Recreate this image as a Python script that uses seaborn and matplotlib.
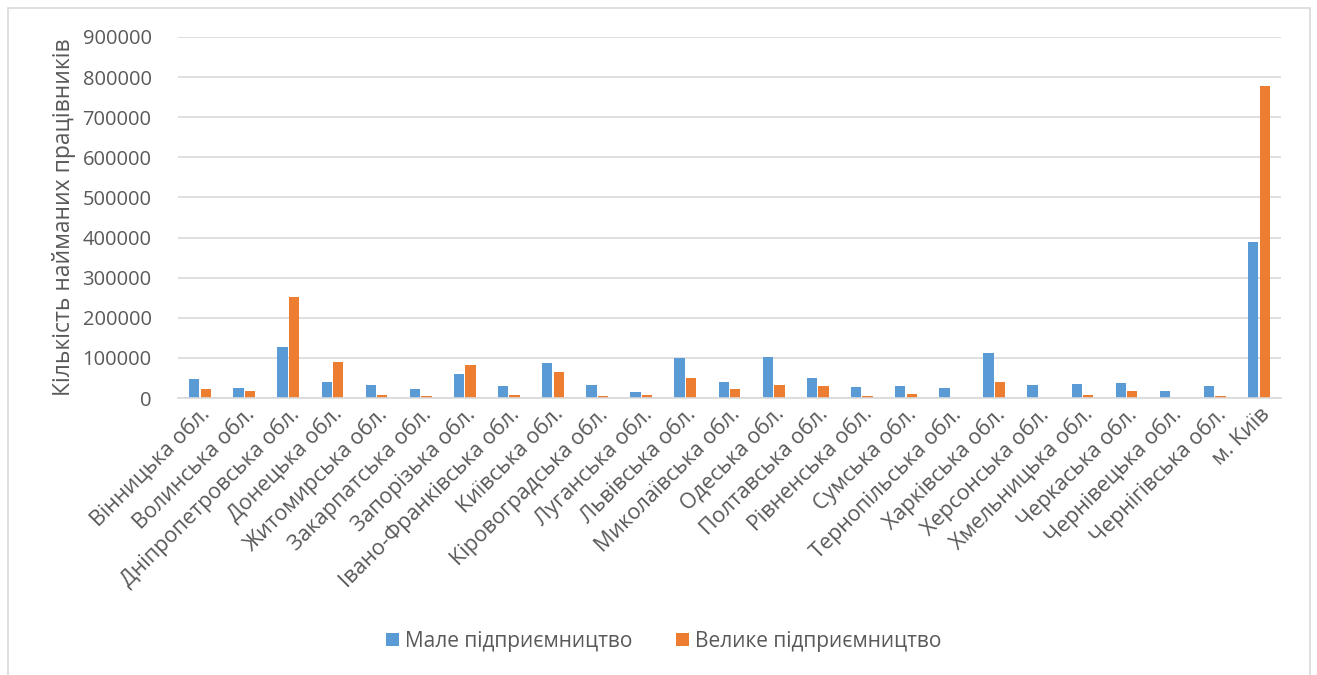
import matplotlib
matplotlib.use("Agg")
import matplotlib.pyplot as plt
import seaborn as sns
import pandas as pd
from matplotlib.patches import Rectangle

regions = ["Вінницька обл.", "Волинська обл.", "Дніпропетровська обл.", "Донецька обл.",
           "Житомирська обл.", "Закарпатська обл.", "Запорізька обл.", "Івано-Франківська обл.",
           "Київська обл.", "Кіровоградська обл.", "Луганська обл.", "Львівська обл.",
           "Миколаївська обл.", "Одеська обл.", "Полтавська обл.", "Рівненська обл.",
           "Сумська обл.", "Тернопільська обл.", "Харківська обл.", "Херсонська обл.",
           "Хмельницька обл.", "Черкаська обл.", "Чернівецька обл.", "Чернігівська обл.",
           "м. Київ"]
small = [48300, 25800, 127500, 40800, 31700, 22500, 60800, 30800, 88300, 33000,
         14400, 99000, 39800, 102500, 49000, 27000, 28800, 23700, 111000, 31400,
         34700, 38100, 17000, 28800, 389000]
large = [23300, 16700, 252500, 89200, 6700, 5000, 81700, 7500, 65800, 6000,
         8500, 49000, 21200, 32200, 28800, 4200, 11000, 0, 39800, 0,
         8500, 17000, 0, 4200, 779000]
series_names = ["Мале підприємництво", "Велике підприємництво"]
y_label = "Кількість найманих працівників"
y_ticks = [0, 100000, 200000, 300000, 400000, 500000, 600000, 700000, 800000, 900000]

df = pd.DataFrame({
    "region": regions * 2,
    "value": small + large,
    "series": [series_names[0]] * len(regions) + [series_names[1]] * len(regions),
})

sns.set_theme(style="white")
plt.rcParams['font.family'] = ['Open Sans', 'DejaVu Sans']

fig = plt.figure(figsize=(13.17, 6.75), dpi=100)
ax = fig.add_axes([178 / 1317, 1 - 398 / 675, (1281 - 178) / 1317, (398 - 37) / 675])

sns.barplot(data=df, x="region", y="value", hue="series",
            palette=["#5b9bd5", "#ed7d31"], width=0.52, gap=0.1,
            ax=ax, legend=True, saturation=1, linewidth=0)

ax.set_ylim(0, 900000)
ax.set_yticks(y_ticks)
ax.set_yticklabels([str(v) for v in y_ticks], fontsize=14.5, color="#595959")
ax.set_xlim(-0.5, len(regions) - 0.5)
ax.set_xlabel("")
ax.set_ylabel(y_label, fontsize=16.5, color="#595959", labelpad=5)
ax.tick_params(axis="both", length=0)
ax.tick_params(axis="y", pad=19)
ax.tick_params(axis="x", pad=4)
for lbl in ax.get_xticklabels():
    lbl.set_rotation(45)
    lbl.set_ha("right")
    lbl.set_rotation_mode("anchor")
    lbl.set_fontsize(15.5)
    lbl.set_color("#595959")

ax.grid(axis="y", color="#d9d9d9", linewidth=1.2)
ax.set_axisbelow(True)
for s in ["top", "right", "left"]:
    ax.spines[s].set_visible(False)
ax.spines["bottom"].set_color("#d9d9d9")
ax.spines["bottom"].set_linewidth(1.2)

handles, labels = ax.get_legend_handles_labels()
ax.legend_.remove()
fig.legend(handles, labels, loc="center", bbox_to_anchor=(664 / 1317, 1 - 641 / 675),
           ncol=2, frameon=False, fontsize=15, handlelength=0.6, handleheight=0.6,
           columnspacing=2.1, handletextpad=0.3, labelcolor="#595959")

fig.patches.append(Rectangle((7.5 / 1317, -0.05), (1310 - 7.5) / 1317, 1.05 - 8.5 / 675,
                             transform=fig.transFigure, fill=False,
                             edgecolor="#d9d9d9", linewidth=1.2))

fig.savefig("out.png", dpi=100, facecolor="white")
